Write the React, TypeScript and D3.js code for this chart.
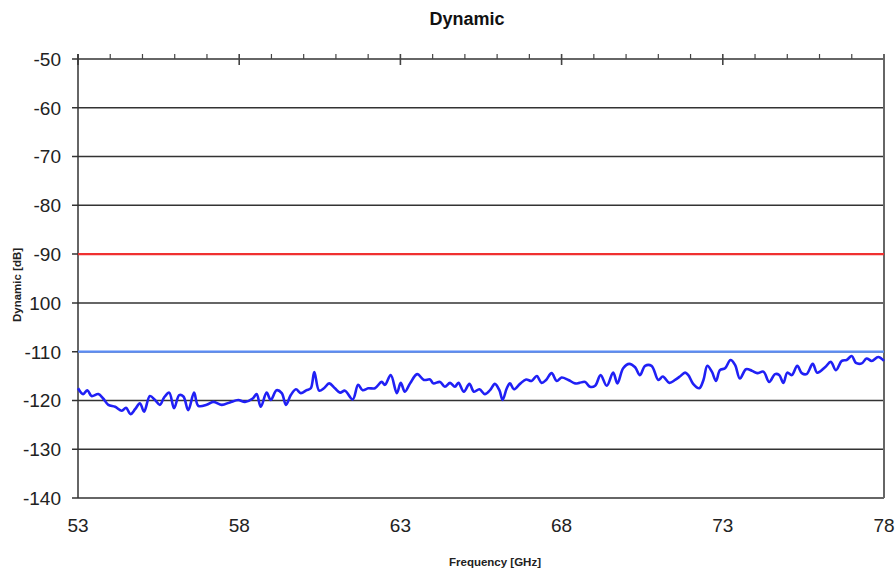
import React from 'react'
import * as d3 from 'd3'

// values
const freqs = [
  53.0, 53.16, 53.29, 53.42, 53.63, 53.78, 53.94, 54.15, 54.36, 54.49, 54.63, 54.77, 54.92, 55.05,
  55.23, 55.39, 55.54, 55.67, 55.83, 55.98, 56.14, 56.27, 56.42, 56.6, 56.73, 56.99, 57.2, 57.46,
  57.71, 57.97, 58.18, 58.42, 58.54, 58.67, 58.85, 58.98, 59.16, 59.32, 59.45, 59.6, 59.76, 59.91,
  60.09, 60.22, 60.33, 60.48, 60.63, 60.79, 60.97, 61.13, 61.28, 61.52, 61.69, 61.83, 62.0, 62.21,
  62.42, 62.52, 62.7, 62.89, 63.01, 63.14, 63.3, 63.52, 63.73, 63.92, 64.02, 64.23, 64.38, 64.54,
  64.69, 64.8, 64.97, 65.14, 65.28, 65.45, 65.62, 65.78, 65.93, 66.07, 66.17, 66.3, 66.4, 66.52,
  66.71, 66.9, 67.07, 67.23, 67.38, 67.52, 67.69, 67.85, 68.0, 68.21, 68.42, 68.55, 68.73, 68.88,
  69.04, 69.21, 69.4, 69.6, 69.73, 69.91, 70.1, 70.28, 70.43, 70.59, 70.79, 71.0, 71.14, 71.34,
  71.52, 71.67, 71.83, 71.93, 72.08, 72.27, 72.4, 72.52, 72.66, 72.79, 72.91, 73.07, 73.24, 73.38,
  73.53, 73.72, 73.9, 74.07, 74.26, 74.44, 74.62, 74.75, 74.88, 75.0, 75.14, 75.31, 75.45, 75.6,
  75.79, 75.93, 76.17, 76.35, 76.51, 76.69, 76.84, 77.0, 77.13, 77.31, 77.46, 77.62, 77.82, 78.0,
]
const dynamicDb = [
  -117.5, -118.7, -117.9, -119.1, -118.7, -119.6, -120.9, -121.3, -122.1, -121.5, -122.8, -121.8,
  -120.6, -122.3, -119.1, -119.9, -120.9, -119.4, -118.4, -121.6, -118.9, -119.2, -122.0, -118.4,
  -121.1, -120.9, -120.3, -120.9, -120.4, -119.9, -120.3, -119.6, -118.7, -121.3, -118.4, -119.9,
  -117.9, -118.5, -120.9, -118.9, -117.7, -118.5, -117.9, -117.5, -114.2, -118.0, -117.5, -116.5,
  -117.5, -118.4, -118.0, -119.8, -116.8, -117.9, -117.5, -117.5, -116.2, -116.8, -114.8, -118.5,
  -116.4, -118.2, -116.5, -114.6, -115.8, -115.7, -116.5, -116.2, -117.2, -116.4, -117.2, -116.4,
  -118.2, -116.6, -118.2, -117.7, -118.7, -117.9, -116.6, -117.9, -119.9, -117.5, -116.5, -117.7,
  -116.6, -115.7, -116.0, -115.0, -116.4, -115.8, -114.4, -116.0, -115.3, -115.8, -116.5, -116.4,
  -116.2, -117.2, -117.0, -114.8, -117.0, -114.3, -116.5, -113.4, -112.5, -113.2, -114.8, -112.9,
  -112.9, -115.8, -115.1, -116.4, -115.8, -115.1, -114.3, -114.8, -116.6, -117.5, -115.8, -112.9,
  -114.1, -116.0, -113.8, -113.4, -111.7, -112.7, -115.5, -113.6, -113.9, -114.4, -114.1, -116.2,
  -114.6, -114.8, -116.4, -114.3, -114.8, -112.9, -114.4, -114.6, -112.5, -114.3, -113.2, -112.1,
  -113.8, -111.9, -111.7, -110.9, -112.3, -112.4, -111.4, -111.9, -111.1, -111.9,
]
const xTicks = [53, 58, 63, 68, 73, 78]
const yTicks = [-50, -60, -70, -80, -90, -100, -110, -120, -130, -140]
// the reference prints the -100 label without its minus sign
const yLabels = ['-50', '-60', '-70', '-80', '-90', '100', '-110', '-120', '-130', '-140']
const limitRed = -90
const limitBlue = -110

const W = 896
const H = 572
const left = 78
const right = 884
const top = 59
const bottom = 498

export default function App() {
  const x = d3.scaleLinear().domain([53, 78]).range([left, right])
  const y = d3.scaleLinear().domain([-140, -50]).range([bottom, top])

  const line = d3
    .line<number>()
    .x((_, i) => x(freqs[i]))
    .y((d) => y(d))
    .curve(d3.curveCatmullRom.alpha(0.5))

  const minorTicks = d3.range(53, 79, 1)
  const font = '"Liberation Sans", Arial, sans-serif'

  return (
    <svg
      width={W}
      height={H}
      style={{ position: 'absolute', left: 0, top: 0, background: '#fff' }}
      fontFamily={font}
    >
      <text x={467} y={25} textAnchor="middle" fontSize={18} fontWeight="bold" fill="#111">
        Dynamic
      </text>

      {/* horizontal grid lines */}
      {yTicks.map((t, i) => (
        <g key={t}>
          <line x1={left - 6} x2={right} y1={y(t)} y2={y(t)} stroke="#333" strokeWidth={1.5} />
          <text x={left - 17} y={y(t)} dy="0.36em" textAnchor="end" fontSize={19} fill="#222">
            {yLabels[i]}
          </text>
        </g>
      ))}

      {/* top axis ticks */}
      {minorTicks.map((t) => {
        const major = (t - 53) % 5 === 0
        return (
          <line
            key={t}
            x1={x(t)}
            x2={x(t)}
            y1={top - 5}
            y2={major ? top + 6 : top}
            stroke="#444"
            strokeWidth={major ? 1.6 : 1.2}
          />
        )
      })}

      {/* axes frame */}
      <line x1={left} x2={left} y1={top - 5} y2={bottom} stroke="#333" strokeWidth={1.5} />
      <line x1={right} x2={right} y1={top - 5} y2={bottom} stroke="#666" strokeWidth={2} />

      {/* limit lines */}
      <line x1={left} x2={right} y1={y(limitRed)} y2={y(limitRed)} stroke="#f03030" strokeWidth={2.2} />
      <line x1={left} x2={right} y1={y(limitBlue)} y2={y(limitBlue)} stroke="#5b8cf6" strokeWidth={2.2} />

      <path d={line(dynamicDb) ?? ''} fill="none" stroke="#2020f5" strokeWidth={2.6} />

      {xTicks.map((t) => (
        <text key={t} x={x(t)} y={532} textAnchor="middle" fontSize={19} fill="#222">
          {t}
        </text>
      ))}

      <text x={495} y={566} textAnchor="middle" fontSize={11.5} fontWeight="bold" fill="#222">
        Frequency [GHz]
      </text>
      <text
        transform={`translate(21, 285) rotate(-90)`}
        textAnchor="middle"
        fontSize={11.5}
        fontWeight="bold"
        fill="#222"
      >
        Dynamic [dB]
      </text>
    </svg>
  )
}
